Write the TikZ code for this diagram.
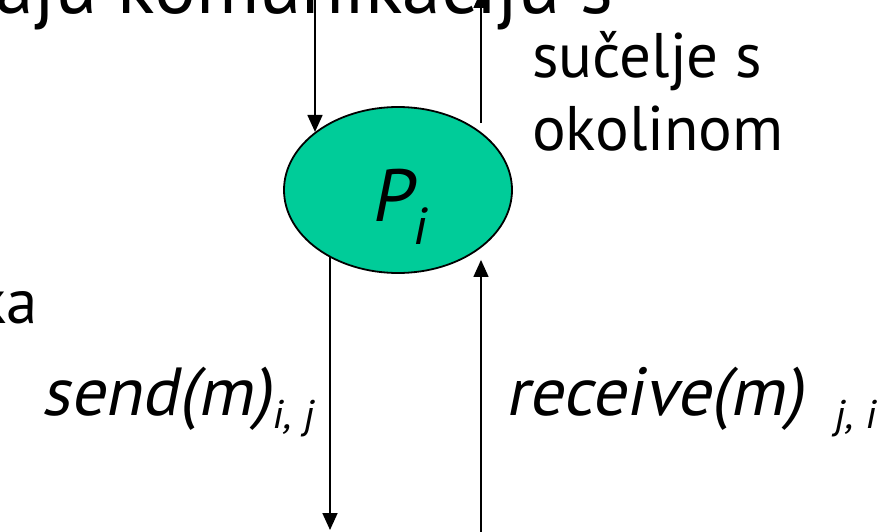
\documentclass[tikz,border=0pt]{standalone}
\usepackage{fontspec}
\setmainfont{PT Sans}
\newfontfamily\slantfont[FakeSlant=0.2]{PT Sans}
\usetikzlibrary{arrows.meta,shapes.geometric}
\definecolor{procgreen}{RGB}{0,204,153}

\begin{document}
\begin{tikzpicture}[x=1pt,y=-1pt,
  bigtext/.style={font=\fontsize{63}{72}\selectfont, inner sep=0pt},
  msgtext/.style={font=\fontsize{68}{72}\selectfont\slantfont, inner sep=0pt},
  arr/.style={-{Triangle[width=15pt,length=17pt]}, line width=1.8pt},
  process/.style={ellipse, draw, line width=1.8pt, fill=procgreen,
    minimum width=228pt, minimum height=166pt, inner sep=0pt}]
  \useasboundingbox (0,0) rectangle (896,532);
  \clip (0,0) rectangle (896,532);
  % texts of the slide around the process
  \node[bigtext, font=\fontsize{78}{84}\selectfont, anchor=base east] (top)
    at (614,14) {aju komunikaciju s};
  \node[bigtext, anchor=base east] (ka) at (38,323) {ka};
  \node[bigtext, anchor=base west] (ifcA) at (532,78) {sučelje s};
  \node[bigtext, anchor=base west] (ifcB) at (532,150) {okolinom};
  % the process
  \node[process] (Pi) at (398,190) {};
  \node[font=\fontsize{74}{74}\selectfont\slantfont, inner sep=0pt] (Pname)
    at ([yshift=-17pt]Pi.center) {P\raisebox{-23pt}{\fontsize{52}{52}\selectfont i}};
  % messages
  \node[msgtext, anchor=base east] (send) at (313,415)
    {send(m)\raisebox{-13pt}{\fontsize{40}{40}\selectfont i, j}};
  \node[msgtext, anchor=base west] (recv) at (505,415)
    {receive(m)\hspace{30pt}\raisebox{-13pt}{\fontsize{40}{40}\selectfont j, i}};
  % interface arrows
  \coordinate (inTop) at (315,-5);
  \coordinate (outTop) at (481,-9);
  \coordinate (sendEnd) at (330,530);
  \coordinate (recvStart) at (481,540);
  \draw[arr] (inTop) -- (inTop |- Pi.145.5);
  \draw[arr, line width=1.4pt, shorten <=10pt] (outTop |- Pi.34.5) -- (outTop);
  \draw[arr] (sendEnd |- Pi.224.4) -- (sendEnd);
  \draw[arr, line width=1.4pt, shorten >=13pt] (recvStart) -- (recvStart |- Pi.-34.5);
\end{tikzpicture}
\end{document}
